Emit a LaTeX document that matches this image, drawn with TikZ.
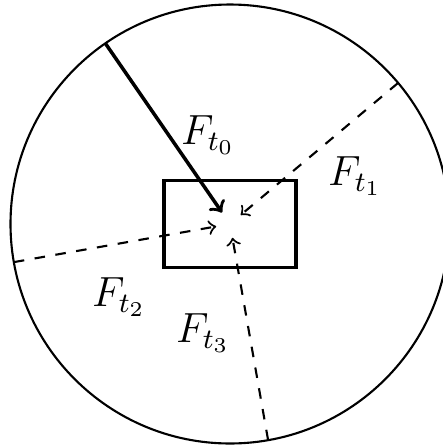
\documentclass[tikz,border=0pt]{standalone}
\begin{document}
\begin{tikzpicture}[line width=0.6pt,>=to]
\tikzset{lab/.style={font=\fontsize{11.5}{13}\selectfont}}
\useasboundingbox (0,0) rectangle (4.43,4.46);
\clip (0,0) rectangle (4.43,4.46);
% 中心与外圆
\coordinate (c) at (2.30,2.22);
\draw (c) circle (2.195);
% 中间的矩形
\node[draw,line width=0.9pt,minimum width=1.32cm,minimum height=0.87cm,inner sep=0pt] (box) at (c) {};
% 圆上的起点与箭头终点
\path (c) ++(124.6:2.195) coordinate (p0) (c) ++(124.6:0.14) coordinate (q0);
\path (c) ++(40:2.195) coordinate (p1) (c) ++(40:0.14) coordinate (q1);
\path (c) ++(190:2.195) coordinate (p2) (c) ++(190:0.14) coordinate (q2);
\path (c) ++(280:2.195) coordinate (p3) (c) ++(280:0.14) coordinate (q3);
% 力的箭头
\draw[->,line width=1pt] (p0) -- (q0);
\draw[->,dashed] (p1) -- (q1);
\draw[->,dashed] (p2) -- (q2);
\draw[->,dashed] (p3) -- (q3);
% 标注
\node[lab] (ft0) at (2.08,3.11) {$F_{t_0}$};
\node[lab] (ft1) at (3.55,2.70) {$F_{t_1}$};
\node[lab] (ft2) at (1.19,1.49) {$F_{t_2}$};
\node[lab] (ft3) at (2.03,1.13) {$F_{t_3}$};
\end{tikzpicture}
\end{document}
